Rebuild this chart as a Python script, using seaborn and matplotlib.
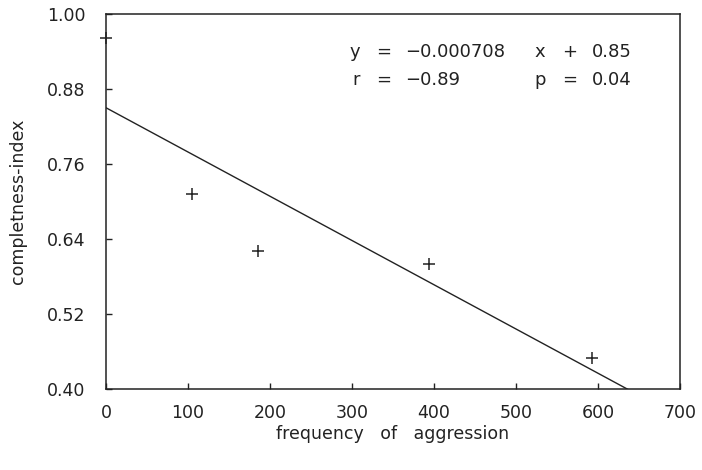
import numpy as np
import pandas as pd
import matplotlib
matplotlib.use("Agg")
import matplotlib.pyplot as plt
import seaborn as sns

# data
freq = [0, 105, 185, 394, 593]
completeness = [0.962, 0.712, 0.621, 0.600, 0.450]
slope = -0.000708
intercept = 0.85
x_ticks = [0, 100, 200, 300, 400, 500, 600, 700]
y_ticks = [0.40, 0.52, 0.64, 0.76, 0.88, 1.00]
y_tick_labels = ["0.40", "0.52", "0.64", "0.76", "0.88", "1.00"]

sns.set_style("ticks")
plt.rcParams['font.family'] = ['DejaVu Sans']

ink = "#222222"
fig = plt.figure(figsize=(7.02, 4.70), dpi=100)
ax = fig.add_axes([106/702, 1-389/470, 574/702, 375/470])

df = pd.DataFrame({"x": freq, "y": completeness})
sns.scatterplot(data=df, x="x", y="y", marker="+", s=70, color=ink, linewidth=1.1,
                ax=ax, zorder=3, clip_on=False)

line_x = np.array([0, 700])
line_df = pd.DataFrame({"x": line_x, "y": intercept + slope * line_x})
sns.lineplot(data=line_df, x="x", y="y", color=ink, linewidth=1.0, ax=ax)

ax.set_xlim(0, 700)
ax.set_ylim(0.40, 1.00)
ax.set_xticks(x_ticks)
ax.set_xticklabels([str(t) for t in x_ticks])
ax.set_yticks(y_ticks)
ax.set_yticklabels(y_tick_labels)
ax.tick_params(axis='x', direction='in', length=4, width=1, pad=11, labelsize=12.5, colors=ink)
ax.tick_params(axis='y', direction='in', length=4, width=1, pad=15, labelsize=12.5, colors=ink)
for sp in ax.spines.values():
    sp.set_visible(True)
    sp.set_color(ink)
    sp.set_linewidth(1.1)

ax.set_xlabel("frequency   of   aggression", fontsize=12.5, color=ink, labelpad=2)
ax.set_ylabel("completness-index", fontsize=12.5, color=ink, labelpad=14)

def px(xp, yp):
    return ((xp - 106) / 574, (389 - yp) / 375)

fs = 13
for txt, xp, yp in [("y", 350, 52), ("=", 376, 52), ("\u22120.000708", 405, 52), ("x", 534, 52),
                    ("+", 562, 52), ("0.85", 592, 52),
                    ("r", 352, 80), ("=", 376, 80), ("\u22120.89", 405, 80),
                    ("p", 534, 80), ("=", 562, 80), ("0.04", 592, 80)]:
    x, y = px(xp, yp)
    ax.text(x, y, txt, transform=ax.transAxes, fontsize=fs, color=ink, ha="left", va="center")

fig.savefig("out.png", dpi=100)
